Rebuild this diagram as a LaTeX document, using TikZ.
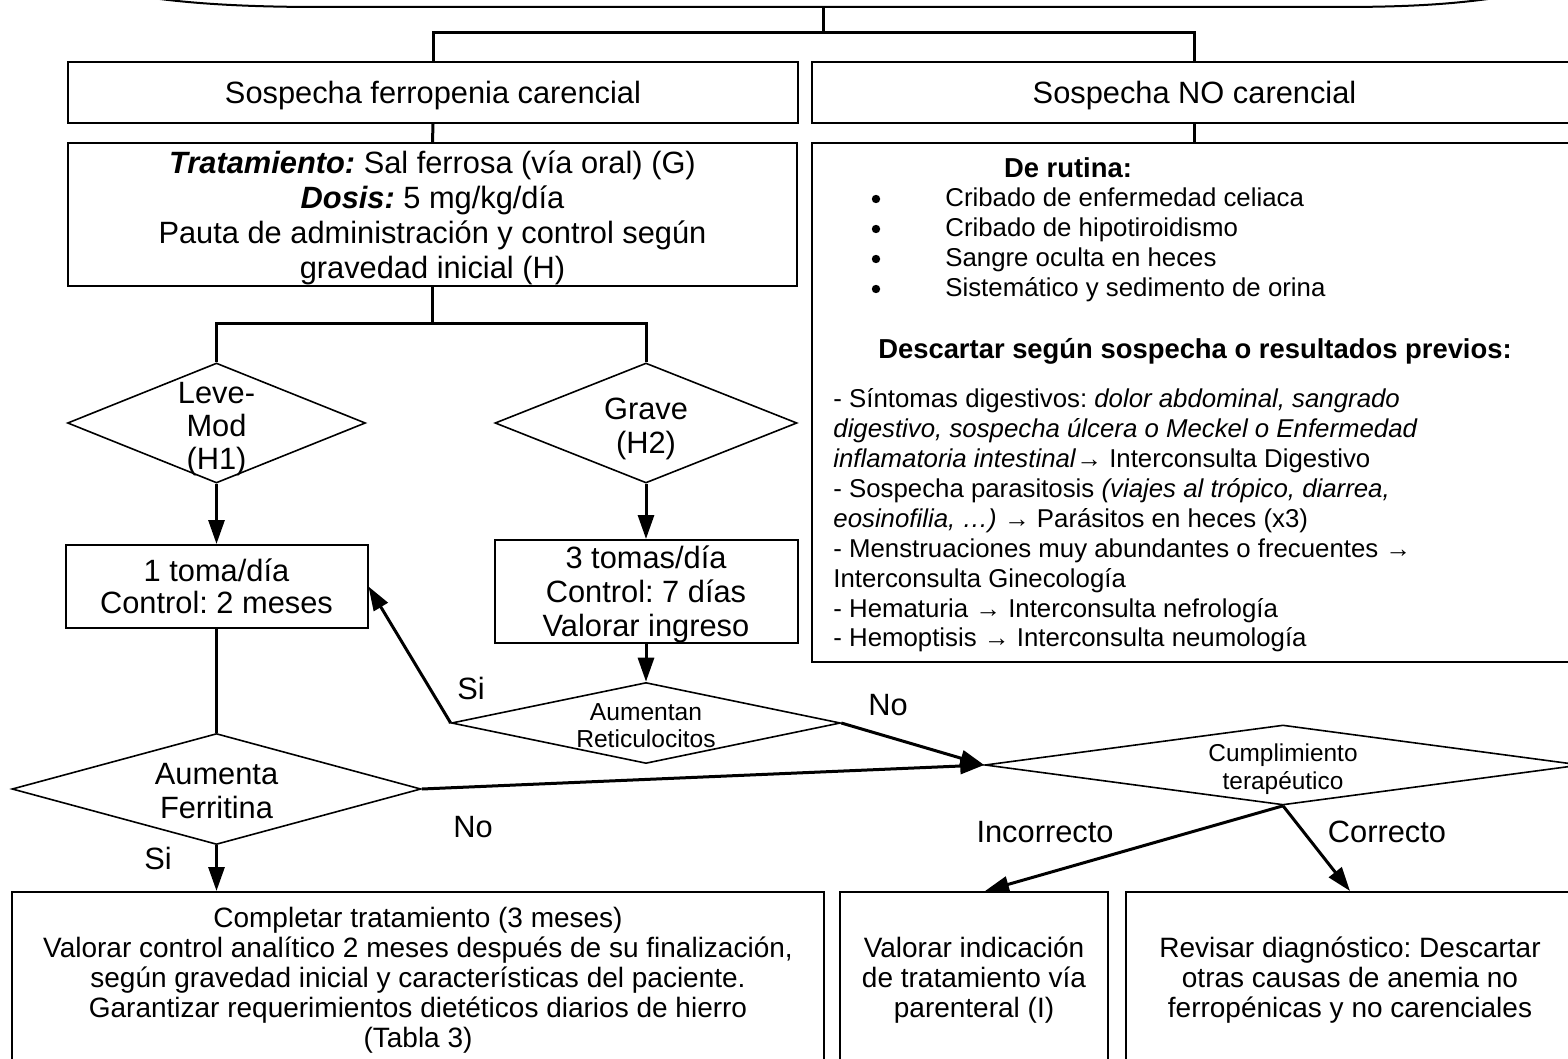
\documentclass[tikz,border=0pt]{standalone}
\usepackage{fontspec}
\setmainfont{Liberation Sans}
\usetikzlibrary{shapes.geometric,arrows.meta,calc}

\begin{document}
\frenchspacing
\begin{tikzpicture}[x=0.5pt,y=-0.5pt,
  box/.style={draw=black,line width=1pt,rectangle,inner sep=0pt,align=center,text depth=0pt},
  dia/.style={draw=black,line width=0.8pt,diamond,inner sep=0pt},
  conn/.style={draw=black,line width=1.5pt},
  arr/.style={conn,-{Triangle[length=12pt,width=8pt]}},
  big/.style={font=\fontsize{15.4}{17.3}\selectfont},
  small/.style={font=\fontsize{12.9}{15}\selectfont},
  head/.style={font=\fontsize{13.7}{15}\selectfont\bfseries},
  dot/.style={circle,fill=black,inner sep=0pt,minimum size=4.2pt},
  tiny/.style={align=center,inner sep=0pt},
  foot/.style={font=\fontsize{14}{15}\selectfont},
  lbl/.style={font=\fontsize{15.4}{17.3}\selectfont,inner sep=0pt}
]
\useasboundingbox (0,0) rectangle (1568,1059);
\clip (0,0) rectangle (1568,1059);

% lower edge of the entry shape above
\draw[line width=1pt] (160,-1) .. controls (200,4) and (250,7) .. (320,7)
  -- (1340,7) .. controls (1410,7) and (1450,4) .. (1488,-1);
\coordinate (topc) at (823,7);
\coordinate (j1) at (823,33);

% first split
\node[box,big,minimum width=365pt,minimum height=30.5pt] (sfc) at (433,92.5)
  {Sospecha ferropenia carencial};
\node[box,big,minimum width=382.5pt,minimum height=30.5pt] (snc) at (1194.5,92.5)
  {Sospecha NO carencial};

% treatment box
\node[box,font=\fontsize{15.4}{17.4}\selectfont,minimum width=364.5pt,minimum height=71.5pt] (trat) at (432.5,214.5)
  {\textbf{\textit{Tratamiento:}} Sal ferrosa (vía oral) (G)\\
   \textbf{\textit{Dosis:}} 5 mg/kg/día\\
   Pauta de administración y control según\\
   gravedad inicial (H)};

% non-deficiency work-up box
\node[box,minimum width=382.5pt,minimum height=259.5pt] (nocar) at (1194.5,402.5) {};
\node[head,anchor=base,inner sep=0pt] (rut) at (1068,178) {De rutina:};
\node[dot] (bu1) at (876,199) {};
\node[dot] (bu2) at (876,229) {};
\node[dot] (bu3) at (876,259) {};
\node[dot] (bu4) at (876,289) {};
\node[small,anchor=base west,inner sep=0pt] (it1) at (945,207) {Cribado de enfermedad celiaca};
\node[small,anchor=base west,inner sep=0pt] (it2) at (945,237) {Cribado de hipotiroidismo};
\node[small,anchor=base west,inner sep=0pt] (it3) at (945,267) {Sangre oculta en heces};
\node[small,anchor=base west,inner sep=0pt] (it4) at (945,297) {Sistemático y sedimento de orina};
\node[head,anchor=base,inner sep=0pt] (desc) at (1195,358) {Descartar según sospecha o resultados previos:};
\node[small,anchor=base west,inner sep=0pt] (l1) at (833,407) {- Síntomas digestivos: \textit{dolor abdominal, sangrado}};
\node[small,anchor=base west,inner sep=0pt] (l2) at (833,437) {\textit{digestivo, sospecha úlcera o Meckel o Enfermedad}};
\node[small,anchor=base west,inner sep=0pt] (l3) at (833,467) {\textit{inflamatoria intestinal}→ Interconsulta Digestivo};
\node[small,anchor=base west,inner sep=0pt] (l4) at (833,497) {- Sospecha parasitosis \textit{(viajes al trópico, diarrea,}};
\node[small,anchor=base west,inner sep=0pt] (l5) at (833,527) {\textit{eosinofilia, …)} → Parásitos en heces (x3)};
\node[small,anchor=base west,inner sep=0pt] (l6) at (833,557) {- Menstruaciones muy abundantes o frecuentes →};
\node[small,anchor=base west,inner sep=0pt] (l7) at (833,587) {Interconsulta Ginecología};
\node[small,anchor=base west,inner sep=0pt] (l8) at (833,617) {- Hematuria → Interconsulta nefrología};
\node[small,anchor=base west,inner sep=0pt] (l9) at (833,646) {- Hemoptisis → Interconsulta neumología};

% severity decisions
\node[dia,minimum width=149pt,minimum height=60pt] (d1) at (216.5,423) {};
\node[font=\fontsize{15.4}{16.5}\selectfont,align=center,inner sep=0pt] (t1) at (216.5,429) {Leve-\\Mod\\(H1)};
\node[dia,minimum width=151pt,minimum height=60pt] (d2) at (646,423) {};
\node[font=\fontsize{15.4}{17}\selectfont,align=center,inner sep=0pt] (t2) at (646,428.5) {Grave\\(H2)};

\node[box,font=\fontsize{15.4}{16}\selectfont,minimum width=151pt,minimum height=41.5pt] (b1) at (216.5,586.5)
  {1 toma/día\\Control: 2 meses};
\node[box,font=\fontsize{15.4}{17}\selectfont,minimum width=151.5pt,minimum height=51.5pt] (b2) at (646,591.5)
  {3 tomas/día\\Control: 7 días\\Valorar ingreso};

\node[dia,minimum width=194.5pt,minimum height=40.5pt] (d3) at (646,723) {};
\node[tiny,font=\fontsize{12.3}{13.5}\selectfont] (t3) at (646,726) {Aumentan\\Reticulocitos};

\node[dia,minimum width=204.5pt,minimum height=55.5pt] (d4) at (216.5,789) {};
\node[font=\fontsize{15.4}{17}\selectfont,align=center,inner sep=0pt] (t4) at (216.5,791) {Aumenta\\Ferritina};

\node[dia,minimum width=298pt,minimum height=40pt] (d5) at (1283,765) {};
\node[tiny,font=\fontsize{12.2}{14}\selectfont] (t5) at (1283,769.5) {Cumplimiento\\terapéutico};

% final boxes
\node[box,foot,minimum width=406pt,minimum height=85.5pt] (e1) at (418,977.5)
  {Completar tratamiento (3 meses)\\
   Valorar control analítico 2 meses después de su finalización,\\
   según gravedad inicial y características del paciente.\\
   Garantizar requerimientos dietéticos diarios de hierro\\
   (Tabla 3)};
\node[box,foot,minimum width=134pt,minimum height=85.5pt] (e2) at (974,977.5)
  {Valorar indicación\\de tratamiento vía\\parenteral (I)};
\node[box,foot,minimum width=224pt,minimum height=85.5pt] (e3) at (1350,977.5)
  {Revisar diagnóstico: Descartar\\otras causas de anemia no\\ferropénicas y no carenciales};

% connectors
\draw[conn] (topc) -- (j1);
\draw[conn] (sfc.north) |- (j1) -| (snc.north);
\draw[conn] (sfc.south) -- (trat.north);
\draw[conn] (snc.south) -- (nocar.north);
\coordinate (j2) at (432.5,323);
\draw[conn] (trat.south) -- (j2);
\draw[conn] (d1.north) |- (j2) -| (d2.north);
\draw[arr] (d1.south) -- (b1.north);
\draw[arr] (d2.south) -- (b2.north);
\draw[arr] (b2.south) -- (d3.north);
\draw[conn] (b1.south) -- (d4.north);
\draw[arr] (d3.west) -- (b1.east);
\draw[arr] (d3.east) -- (d5.west);
\draw[arr] (d4.east) -- (d5.west);
\draw[arr] (d4.south) -- (d4.south |- e1.north);
\draw[arr] (d5.south) -- ($(e2.north)+(11,0)$);
\draw[arr] (d5.south) -- (e3.north);

% branch labels
\node[lbl] (si1) at (471,688) {Si};
\node[lbl] (no1) at (888,705) {No};
\node[lbl] (no2) at (473,827) {No};
\node[lbl] (si2) at (158,858) {Si};
\node[lbl] (inc) at (1045,832) {Incorrecto};
\node[lbl] (cor) at (1387,832) {Correcto};
\end{tikzpicture}
\end{document}
